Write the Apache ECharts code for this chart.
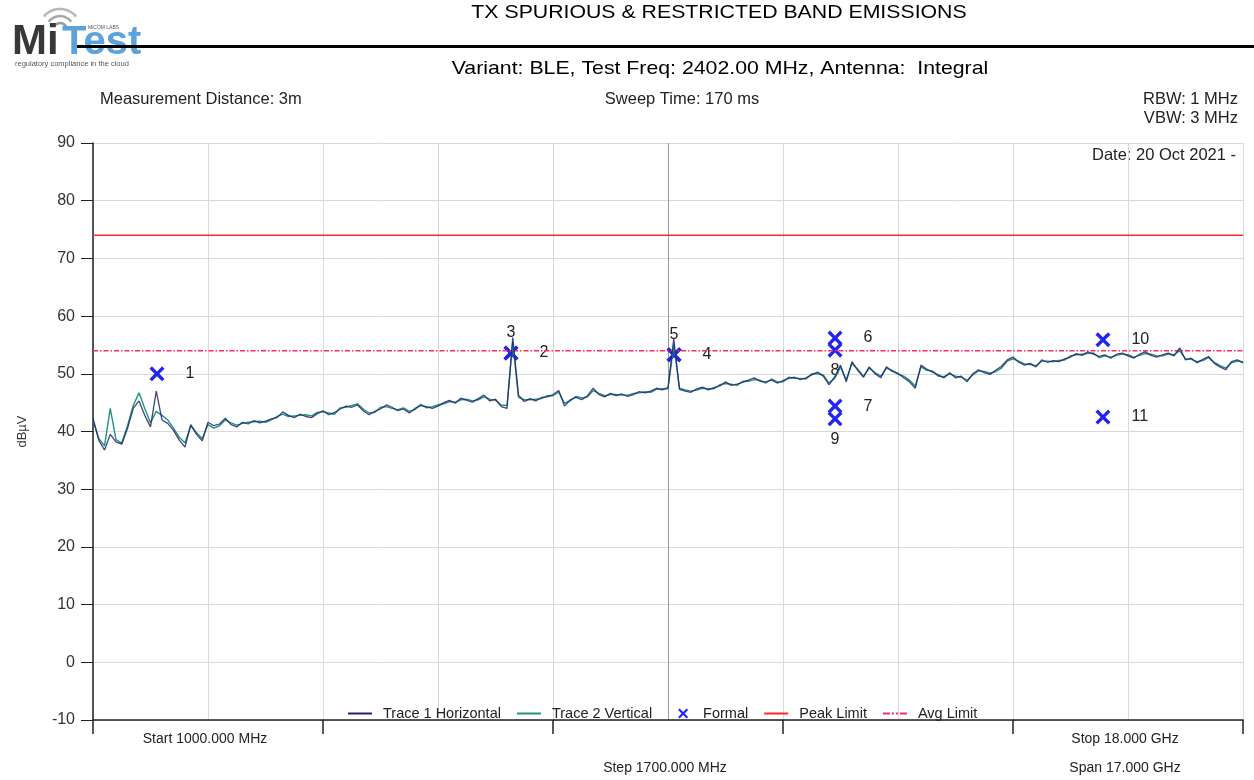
<!DOCTYPE html>
<html><head><meta charset="utf-8">
<script src="https://cdn.jsdelivr.net/npm/echarts@6/dist/echarts.min.js"></script>
<style>html,body{margin:0;padding:0;background:#fff}#c{width:1254px;height:780px}</style>
</head><body><div id="c"></div>
<script>
// Sweep settings (MHz)
const sweepStartMHz = 1000;
const sweepStopMHz = 18000;
const sweepStepMHz = 85;
const gridStepMHz = 1700;

// Trace values (dBµV), one per sweep point
const trace1 = [
42.3,38.5,36.8,39.5,38.2,37.8,40.5,44.0,45.3,42.8,40.8,47.0,42.0,41.4,40.2,38.5,37.3,41.2,39.5,38.4,
41.6,41.0,41.3,42.3,41.2,40.8,41.6,41.3,41.9,41.5,41.8,42.2,42.4,43.4,42.8,42.4,43.0,42.6,42.4,43.1,
43.6,42.9,43.3,43.9,44.4,44.2,44.6,43.6,42.9,43.5,43.9,44.6,44.2,43.6,43.9,43.2,44.0,44.5,44.3,44.0,
44.4,45.0,45.4,44.9,45.8,45.4,45.1,45.7,46.3,45.3,45.6,44.3,44.0,56.3,46.3,45.2,45.7,45.3,45.9,46.0,
46.4,47.1,44.4,45.5,45.9,45.5,46.2,47.5,46.4,46.0,46.6,46.2,46.5,46.1,46.4,46.9,46.7,47.0,47.5,47.2,
47.6,56.0,47.3,47.0,46.8,47.4,47.7,47.2,47.6,47.9,48.6,48.0,48.2,48.5,48.9,49.3,48.7,48.6,48.9,48.4,
48.8,49.2,49.4,49.0,49.3,49.8,50.3,49.6,48.1,49.5,51.5,48.6,52.1,50.6,49.4,51.2,50.0,49.3,51.2,50.4,
50.1,49.3,48.6,47.5,51.5,50.8,50.3,49.8,49.3,50.2,49.3,49.6,48.6,50.0,50.7,50.2,49.9,50.6,51.3,52.4,
52.9,52.0,51.5,51.8,51.2,52.4,52.0,52.3,52.1,52.6,52.9,53.5,53.2,53.8,53.4,53.0,53.3,52.7,53.4,53.6,
53.1,52.7,53.4,53.8,53.2,52.9,53.3,53.6,53.1,54.5,52.4,52.7,51.9,52.5,53.0,51.8,51.2,50.7,52.1,52.4,
51.9
];
const trace2 = [
42.0,38.8,37.5,44.0,38.6,38.0,41.0,44.5,46.7,44.0,41.5,43.5,42.8,42.0,40.6,39.0,38.0,41.0,39.8,38.8,
41.2,40.6,41.0,42.0,41.5,41.1,41.4,41.6,41.7,41.8,41.6,42.0,42.6,43.0,42.6,42.7,42.8,42.9,42.7,43.3,
43.4,43.2,43.0,44.1,44.2,44.5,44.8,43.9,43.2,43.3,44.2,44.3,44.0,43.8,44.1,43.5,43.8,44.7,44.1,44.3,
44.6,44.8,45.2,45.1,45.5,45.6,45.3,45.5,46.0,45.6,45.4,44.6,44.5,55.5,45.9,45.5,45.5,45.6,45.7,46.2,
46.2,46.8,44.9,45.3,46.1,45.8,46.0,47.1,46.6,46.2,46.4,46.4,46.3,46.3,46.6,46.7,46.9,46.8,47.3,47.4,
47.4,55.0,47.5,47.2,47.0,47.2,47.5,47.4,47.4,48.1,48.3,48.2,48.0,48.7,48.7,49.0,48.9,48.4,49.1,48.6,
48.6,49.4,49.2,49.2,49.1,50.0,50.0,49.8,48.4,49.2,51.2,49.0,51.8,50.8,49.6,51.0,50.2,49.6,51.0,50.6,
49.9,49.6,48.9,47.9,51.2,50.6,50.5,49.6,49.5,50.0,49.6,49.4,48.9,49.8,50.5,50.4,50.1,50.4,51.0,52.2,
52.6,52.2,51.7,51.6,51.4,52.2,52.2,52.1,52.3,52.4,53.1,53.3,53.4,53.5,53.6,52.8,53.1,52.9,53.2,53.4,
53.3,52.9,53.2,53.5,53.4,53.1,53.1,53.4,53.3,54.0,52.6,52.5,52.1,52.3,52.8,52.0,51.4,51.0,51.9,52.2,
52.1
];

// Limits (dBµV)
const peakLimit = 74;
const avgLimit = 54;

// Formal markers
const markerFreqs = [1946, 7179, 7179, 9589, 9589, 11969, 11969, 11969, 11969, 15930, 15930];
const markerValues = [50.0, 53.6, 53.6, 53.3, 53.3, 56.2, 44.4, 54.1, 42.2, 55.9, 42.5];
const markerLabels = ['1','2','3','4','5','6','7','8','9','10','11'];
const markerLabelPos = ['right','right','top','right','top','right','right','bottom','bottom','right','right'];

const legendNames = ['Trace 1 Horizontal', 'Trace 2 Vertical', 'Formal', 'Peak Limit', 'Avg Limit'];

// ---------- build ----------
const FONT = "'Liberation Sans', Arial, sans-serif";
const NARROW = "'Liberation Sans Narrow', 'Liberation Sans', Arial, sans-serif";
const span = sweepStopMHz - sweepStartMHz;
const t1 = trace1.map((v, i) => [i * sweepStepMHz, v]);
const t2 = trace2.map((v, i) => [i * sweepStepMHz, v]);
const markers = markerFreqs.map((f, i) => ({
  value: [f - sweepStartMHz, markerValues[i]],
  label: { formatter: markerLabels[i], position: markerLabelPos[i], distance: markerLabelPos[i] === 'right' ? 21 : 5 }
}));
const xSplitColors = [];
for (let k = 0; k <= span / gridStepMHz; k++) xSplitColors.push(k === 5 ? '#9a9a9a' : '#d9d9d9');

const XPATH = 'path://M0,1.6 L1.6,0 L5,3.4 L8.4,0 L10,1.6 L6.6,5 L10,8.4 L8.4,10 L5,6.6 L1.6,10 L0,8.4 L3.4,5 Z';
// legend icons in a 30x10 box (tiny corner marks fix the bounding box)
const BOX = 'M0,0 L0.01,0 L0,0.01 Z M30,10 L29.99,10 L30,9.99 Z ';
const ICON_LINE = 'path://' + BOX + 'M0,4 H24 V6 H0 Z';
const ICON_DASH = 'path://' + BOX + 'M0,4 H7 V6 H0 Z M9,4 H11 V6 H9 Z M13,4 H15 V6 H13 Z M17,4 H24 V6 H17 Z';
const ICON_X = 'path://' + BOX + 'M10,1.5 L11.5,0 L15,3.5 L18.5,0 L20,1.5 L16.5,5 L20,8.5 L18.5,10 L15,6.5 L11.5,10 L10,8.5 L13.5,5 Z';
const legendIcons = [ICON_LINE, ICON_LINE, ICON_X, ICON_LINE, ICON_DASH];

const chart = echarts.init(document.getElementById('c'), null, { renderer: 'canvas' });
chart.setOption({
  backgroundColor: '#fff',
  animation: false,
  grid: { left: 93, top: 143, width: 1150, height: 577, show: false },
  xAxis: [
    { type: 'value', min: 0, max: span, interval: gridStepMHz,
      axisLine: { show: true, onZero: false, lineStyle: { color: '#222', width: 1.5 } },
      axisTick: { show: false }, axisLabel: { show: false },
      splitLine: { show: true, lineStyle: { color: xSplitColors, width: 1 } } },
    { type: 'value', min: 0, max: span, interval: gridStepMHz * 2, position: 'bottom',
      axisLine: { show: false, onZero: false }, axisLabel: { show: false }, splitLine: { show: false },
      axisTick: { show: true, length: 14, lineStyle: { color: '#222', width: 1.5 } } }
  ],
  yAxis: {
    type: 'value', min: -10, max: 90, interval: 10,
    name: 'dBµV', nameLocation: 'middle', nameGap: 64, nameRotate: 90,
    nameTextStyle: { fontSize: 13, color: '#333', fontFamily: FONT },
    axisLine: { show: true, onZero: false, lineStyle: { color: '#222', width: 1.5 } },
    axisTick: { show: true, length: 12, lineStyle: { color: '#222', width: 1 } },
    axisLabel: { fontSize: 16, color: '#333', margin: 18, fontFamily: FONT },
    splitLine: { show: true, lineStyle: { color: '#d9d9d9', width: 1 } }
  },
  legend: {
    left: 343, top: 701, itemGap: 16, itemWidth: 30, itemHeight: 10,
    textStyle: { fontSize: 14.5, color: '#222', fontFamily: NARROW },
    data: legendNames.map((n, i) => ({ name: n, icon: legendIcons[i] }))
  },
  series: [
    { name: 'Peak Limit', type: 'line', symbol: 'none', silent: true,
      data: [[0, peakLimit], [span, peakLimit]],
      lineStyle: { color: '#ff2a2a', width: 1.5 }, itemStyle: { color: '#ff2a2a' } },
    { name: 'Avg Limit', type: 'line', symbol: 'none', silent: true,
      data: [[0, avgLimit], [span, avgLimit]],
      lineStyle: { color: '#ff2a5a', width: 1.5, type: [5, 2, 1.5, 2] }, itemStyle: { color: '#ff2a5a' } },
    { name: 'Trace 2 Vertical', type: 'line', symbol: 'none', data: t2,
      lineStyle: { color: '#1f9480', width: 1.4 }, itemStyle: { color: '#1f9480' } },
    { name: 'Trace 1 Horizontal', type: 'line', symbol: 'none', data: t1,
      lineStyle: { color: '#23236e', width: 1.3, opacity: 0.85 }, itemStyle: { color: '#23236e' } },
    { name: 'Formal', type: 'scatter', symbol: XPATH, symbolSize: 15, data: markers,
      itemStyle: { color: '#2424f0', opacity: 1 },
      label: { show: true, fontSize: 16, color: '#222', fontFamily: FONT } }
  ],
  graphic: [
    // logo
    { type: 'arc', shape: { cx: 60, cy: 30, r: 7, startAngle: -Math.PI * 0.82, endAngle: -Math.PI * 0.18 }, style: { stroke: '#9a9a9a', lineWidth: 2.5, fill: null } },
    { type: 'arc', shape: { cx: 60, cy: 30, r: 14, startAngle: -Math.PI * 0.8, endAngle: -Math.PI * 0.2 }, style: { stroke: '#a8a8a8', lineWidth: 2.5, fill: null } },
    { type: 'arc', shape: { cx: 60, cy: 30, r: 21, startAngle: -Math.PI * 0.78, endAngle: -Math.PI * 0.22 }, style: { stroke: '#b8b8b8', lineWidth: 2.5, fill: null } },
    { type: 'text', left: 12, top: 21, style: { text: 'Mi', font: 'bold 42px ' + FONT, fill: '#383838' } },
    { type: 'text', left: 62, top: 23, style: { text: 'Test', font: 'bold 40px ' + FONT, fill: '#5aa3dc' } },
    { type: 'text', left: 88, top: 25, style: { text: 'MiCOM LABS', font: '5px ' + FONT, fill: '#555' } },
    { type: 'text', left: 15, top: 60, style: { text: 'regulatory compliance in the cloud', font: '7.5px ' + NARROW, fill: '#555' } },
    { type: 'rect', shape: { x: 77, y: 45, width: 1177, height: 3 }, style: { fill: '#000' } },
    // titles
    { type: 'text', x: 719, y: 13, scaleX: 1.15, style: { text: 'TX SPURIOUS & RESTRICTED BAND EMISSIONS', font: '18.5px ' + FONT, fill: '#000', textAlign: 'center', textVerticalAlign: 'middle' } },
    { type: 'text', x: 720, y: 69, scaleX: 1.15, style: { text: 'Variant: BLE, Test Freq: 2402.00 MHz, Antenna:  Integral', font: '18.5px ' + FONT, fill: '#000', textAlign: 'center', textVerticalAlign: 'middle' } },
    { type: 'text', x: 100, y: 99, style: { text: 'Measurement Distance: 3m', font: '16.5px ' + FONT, fill: '#222', textAlign: 'left', textVerticalAlign: 'middle' } },
    { type: 'text', x: 682, y: 99, style: { text: 'Sweep Time: 170 ms', font: '16.5px ' + FONT, fill: '#222', textAlign: 'center', textVerticalAlign: 'middle' } },
    { type: 'text', x: 1238, y: 99, style: { text: 'RBW: 1 MHz', font: '16.5px ' + FONT, fill: '#222', textAlign: 'right', textVerticalAlign: 'middle' } },
    { type: 'text', x: 1238, y: 118, style: { text: 'VBW: 3 MHz', font: '16.5px ' + FONT, fill: '#222', textAlign: 'right', textVerticalAlign: 'middle' } },
    { type: 'text', x: 1236, y: 155, style: { text: 'Date: 20 Oct 2021 -', font: '16.5px ' + FONT, fill: '#222', textAlign: 'right', textVerticalAlign: 'middle' } },
    // bottom sweep info
    { type: 'text', x: 205, y: 739, style: { text: 'Start 1000.000 MHz', font: '14px ' + NARROW, fill: '#222', textAlign: 'center', textVerticalAlign: 'middle' } },
    { type: 'text', x: 1125, y: 739, style: { text: 'Stop 18.000 GHz', font: '14px ' + NARROW, fill: '#222', textAlign: 'center', textVerticalAlign: 'middle' } },
    { type: 'text', x: 665, y: 768, style: { text: 'Step 1700.000 MHz', font: '14px ' + NARROW, fill: '#222', textAlign: 'center', textVerticalAlign: 'middle' } },
    { type: 'text', x: 1125, y: 768, style: { text: 'Span 17.000 GHz', font: '14px ' + NARROW, fill: '#222', textAlign: 'center', textVerticalAlign: 'middle' } }
  ]
});
</script>
</body></html>
